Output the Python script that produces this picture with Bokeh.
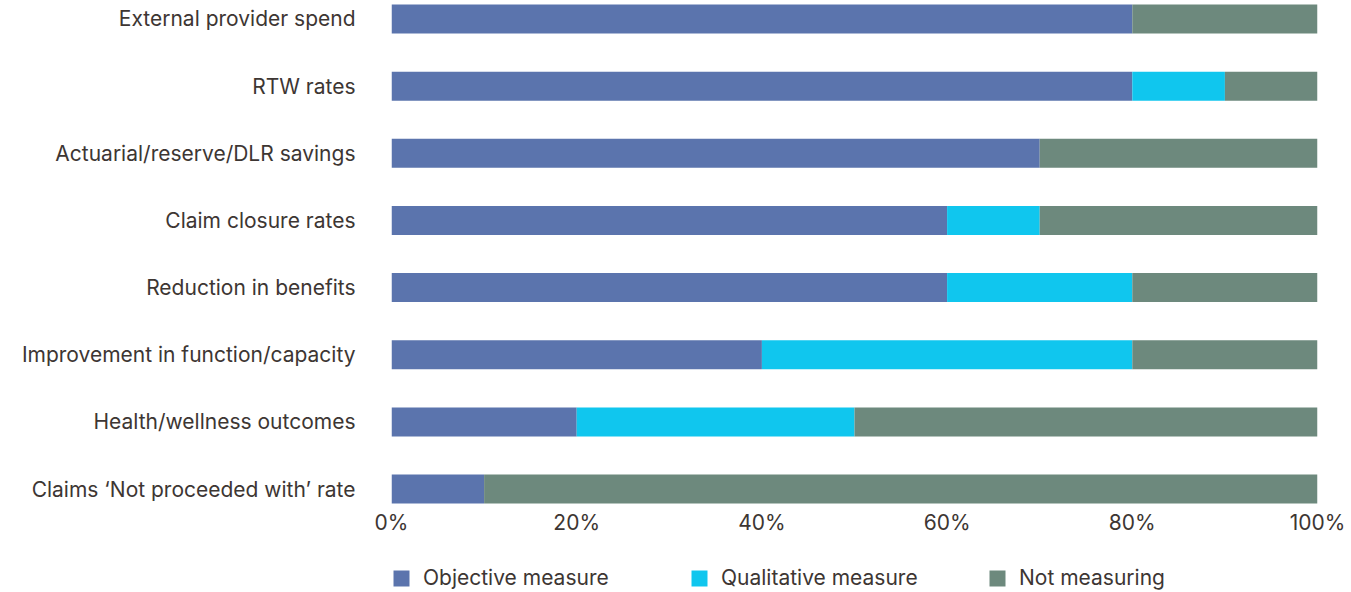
from bokeh.plotting import figure
from bokeh.layouts import column
from bokeh.models import ColumnDataSource, Range1d, FixedTicker, Legend, LegendItem
from bokeh.embed import file_html
from bokeh.resources import INLINE

categories = ["External provider spend", "RTW rates", "Actuarial/reserve/DLR savings",
              "Claim closure rates", "Reduction in benefits", "Improvement in function/capacity",
              "Health/wellness outcomes", "Claims \u2018Not proceeded with\u2019 rate"]
objective = [80, 80, 70, 60, 60, 40, 20, 10]
qualitative = [0, 10, 0, 10, 20, 40, 30, 0]
not_measuring = [20, 10, 30, 30, 20, 20, 50, 90]
series_names = ["Objective measure", "Qualitative measure", "Not measuring"]
x_ticks = [0, 20, 40, 60, 80, 100]
x_tick_labels = ["0%", "20%", "40%", "60%", "80%", "100%"]

colors = ["#5b74ad", "#10c6ee", "#6d897d"]
text_color = "#3d3633"
font = "Inter"
fs = "21px"

ypos = list(range(len(categories)))
source = ColumnDataSource(dict(y=ypos, obj=objective, qual=qualitative, nm=not_measuring))

p = figure(width=1350, height=545, output_backend="svg", toolbar_location=None,
           x_range=Range1d(0, 100), y_range=Range1d(7.26, -0.2755),
           min_border_left=391, min_border_right=33, min_border_top=0, min_border_bottom=39)

renderers = p.hbar_stack(["obj", "qual", "nm"], y="y", height=0.432, color=colors,
                         line_color=None, source=source)

p.xgrid.visible = False
p.ygrid.visible = False
p.outline_line_color = None

xa = p.xaxis[0]
xa.ticker = FixedTicker(ticks=x_ticks)
xa.major_label_overrides = {t: l for t, l in zip(x_ticks, x_tick_labels)}
xa.axis_line_color = None
xa.major_tick_line_color = None
xa.minor_tick_line_color = None
xa.major_label_standoff = -3
xa.major_label_text_font = font
xa.major_label_text_font_size = fs
xa.major_label_text_color = text_color

ya = p.yaxis[0]
ya.ticker = FixedTicker(ticks=ypos)
ya.major_label_overrides = {i: c for i, c in zip(ypos, categories)}
ya.axis_line_color = None
ya.major_tick_line_color = None
ya.minor_tick_line_color = None
ya.major_label_standoff = 30
ya.major_label_text_font = font
ya.major_label_text_font_size = fs
ya.major_label_text_color = text_color

# legend strip below the chart (its bars lie outside its visible range)
p2 = figure(width=1350, height=47, output_backend="svg", toolbar_location=None,
            x_range=Range1d(0, 100), y_range=Range1d(100, 101),
            min_border_left=391, min_border_right=33, min_border_top=0, min_border_bottom=0)
p2.axis.visible = False
p2.xgrid.visible = False
p2.ygrid.visible = False
p2.outline_line_color = None
leg_renderers = p2.hbar_stack(["obj", "qual", "nm"], y="y", height=0.4, color=colors,
                              line_color=None, source=source)

legend = Legend(items=[LegendItem(label=n, renderers=[r]) for n, r in zip(series_names, leg_renderers)],
                orientation="horizontal", location=(0, 2), padding=0, margin=0, spacing=0,
                glyph_width=20, glyph_height=20, label_standoff=12, label_width=266,
                label_text_font=font, label_text_font_size=fs, label_text_color=text_color,
                border_line_color=None, background_fill_alpha=0)
p2.add_layout(legend, "center")

layout = column(p, p2, spacing=0)
open("out.html", "w").write(file_html(layout, INLINE))
